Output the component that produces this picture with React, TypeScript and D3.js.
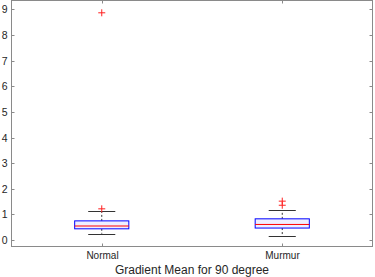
import React, { useEffect, useRef } from 'react';
import * as d3 from 'd3';

const categories = ['Normal', 'Murmur'];
const q1 = [0.44, 0.47];
const medians = [0.55, 0.61];
const q3 = [0.75, 0.83];
const whiskerLow = [0.25, 0.17];
const whiskerHigh = [1.13, 1.17];
const normalOutliers = [1.22, 8.87];
const murmurOutliers = [1.36, 1.52];
const yTicks = [0, 1, 2, 3, 4, 5, 6, 7, 8, 9];
const xLabel = 'Gradient Mean for 90 degree';

const W = 375;
const H = 277;

export default function App() {
  const svgRef = useRef<SVGSVGElement>(null);

  useEffect(() => {
    if (!svgRef.current) return;
    const svg = d3.select(svgRef.current);
    svg.selectAll('*').remove();

    const left = 11.5, right = 372.5, top = 0.5, bottom = 246.5;
    const axisColor = '#8a8a8a';
    const textColor = '#262626';
    const font = 'Liberation Sans, Arial, sans-serif';

    const x = d3.scaleLinear().domain([0.5, 2.5]).range([left, right]);
    const y = d3.scaleLinear().domain([-0.25, 9.35]).range([bottom, top]);

    const outliers = [normalOutliers, murmurOutliers];
    const boxW = 0.3;
    const capW = 0.15;

    categories.forEach((cat, i) => {
      const c = i + 1;
      const g = svg.append('g');
      // whiskers (dashed)
      g.append('line')
        .attr('x1', x(c)).attr('x2', x(c))
        .attr('y1', y(q3[i])).attr('y2', y(whiskerHigh[i]))
        .attr('stroke', '#000').attr('stroke-width', 0.8)
        .attr('stroke-dasharray', '2,2');
      g.append('line')
        .attr('x1', x(c)).attr('x2', x(c))
        .attr('y1', y(q1[i])).attr('y2', y(whiskerLow[i]))
        .attr('stroke', '#000').attr('stroke-width', 0.8)
        .attr('stroke-dasharray', '2,2');
      // caps
      [whiskerHigh[i], whiskerLow[i]].forEach(v => {
        g.append('line')
          .attr('x1', x(c - capW / 2)).attr('x2', x(c + capW / 2))
          .attr('y1', Math.round(y(v)) + 0.5).attr('y2', Math.round(y(v)) + 0.5)
          .attr('stroke', '#333').attr('stroke-width', 1);
      });
      // box
      g.append('rect')
        .attr('x', x(c - boxW / 2))
        .attr('y', y(q3[i]))
        .attr('width', x(c + boxW / 2) - x(c - boxW / 2))
        .attr('height', y(q1[i]) - y(q3[i]))
        .attr('fill', '#eeeeff')
        .attr('stroke', '#0000ff')
        .attr('stroke-width', 1);
      // median
      g.append('line')
        .attr('x1', x(c - boxW / 2)).attr('x2', x(c + boxW / 2))
        .attr('y1', y(medians[i])).attr('y2', y(medians[i]))
        .attr('stroke', '#ff0000').attr('stroke-width', 1);
      // outliers
      outliers[i].forEach(v => {
        const px = x(c), py = y(v);
        g.append('path')
          .attr('d', `M${px - 3.5},${py}H${px + 3.5}M${px},${py - 3.5}V${py + 3.5}`)
          .attr('stroke', '#ff2020').attr('stroke-width', 1).attr('fill', 'none');
      });
    });

    // axes frame
    svg.append('rect')
      .attr('x', left).attr('y', top)
      .attr('width', right - left).attr('height', bottom - top)
      .attr('fill', 'none').attr('stroke', axisColor).attr('stroke-width', 1);

    // y ticks (inward, both sides)
    yTicks.forEach(t => {
      const py = Math.round(y(t)) + 0.5;
      svg.append('line').attr('x1', left).attr('x2', left + 3)
        .attr('y1', py).attr('y2', py).attr('stroke', axisColor);
      svg.append('line').attr('x1', right).attr('x2', right - 3)
        .attr('y1', py).attr('y2', py).attr('stroke', axisColor);
      svg.append('text')
        .attr('x', left - 4).attr('y', py)
        .attr('dy', '0.35em')
        .attr('text-anchor', 'end')
        .attr('font-family', font).attr('font-size', 10.5)
        .attr('fill', textColor)
        .text(String(t));
    });

    // x ticks and labels
    categories.forEach((cat, i) => {
      const px = Math.round(x(i + 1)) + 0.5;
      svg.append('line').attr('x1', px).attr('x2', px)
        .attr('y1', bottom).attr('y2', bottom - 3).attr('stroke', axisColor);
      svg.append('line').attr('x1', px).attr('x2', px)
        .attr('y1', top).attr('y2', top + 3).attr('stroke', axisColor);
      svg.append('text')
        .attr('x', px).attr('y', 259)
        .attr('text-anchor', 'middle')
        .attr('font-family', font).attr('font-size', 10)
        .attr('fill', textColor)
        .text(cat);
    });

    svg.append('text')
      .attr('x', (left + right) / 2).attr('y', 274)
      .attr('text-anchor', 'middle')
      .attr('font-family', font).attr('font-size', 12)
      .attr('fill', textColor)
      .text(xLabel);
  }, []);

  return (
    <svg
      ref={svgRef}
      width={W}
      height={H}
      style={{ position: 'absolute', left: 0, top: 0, background: '#fff' }}
    />
  );
}
